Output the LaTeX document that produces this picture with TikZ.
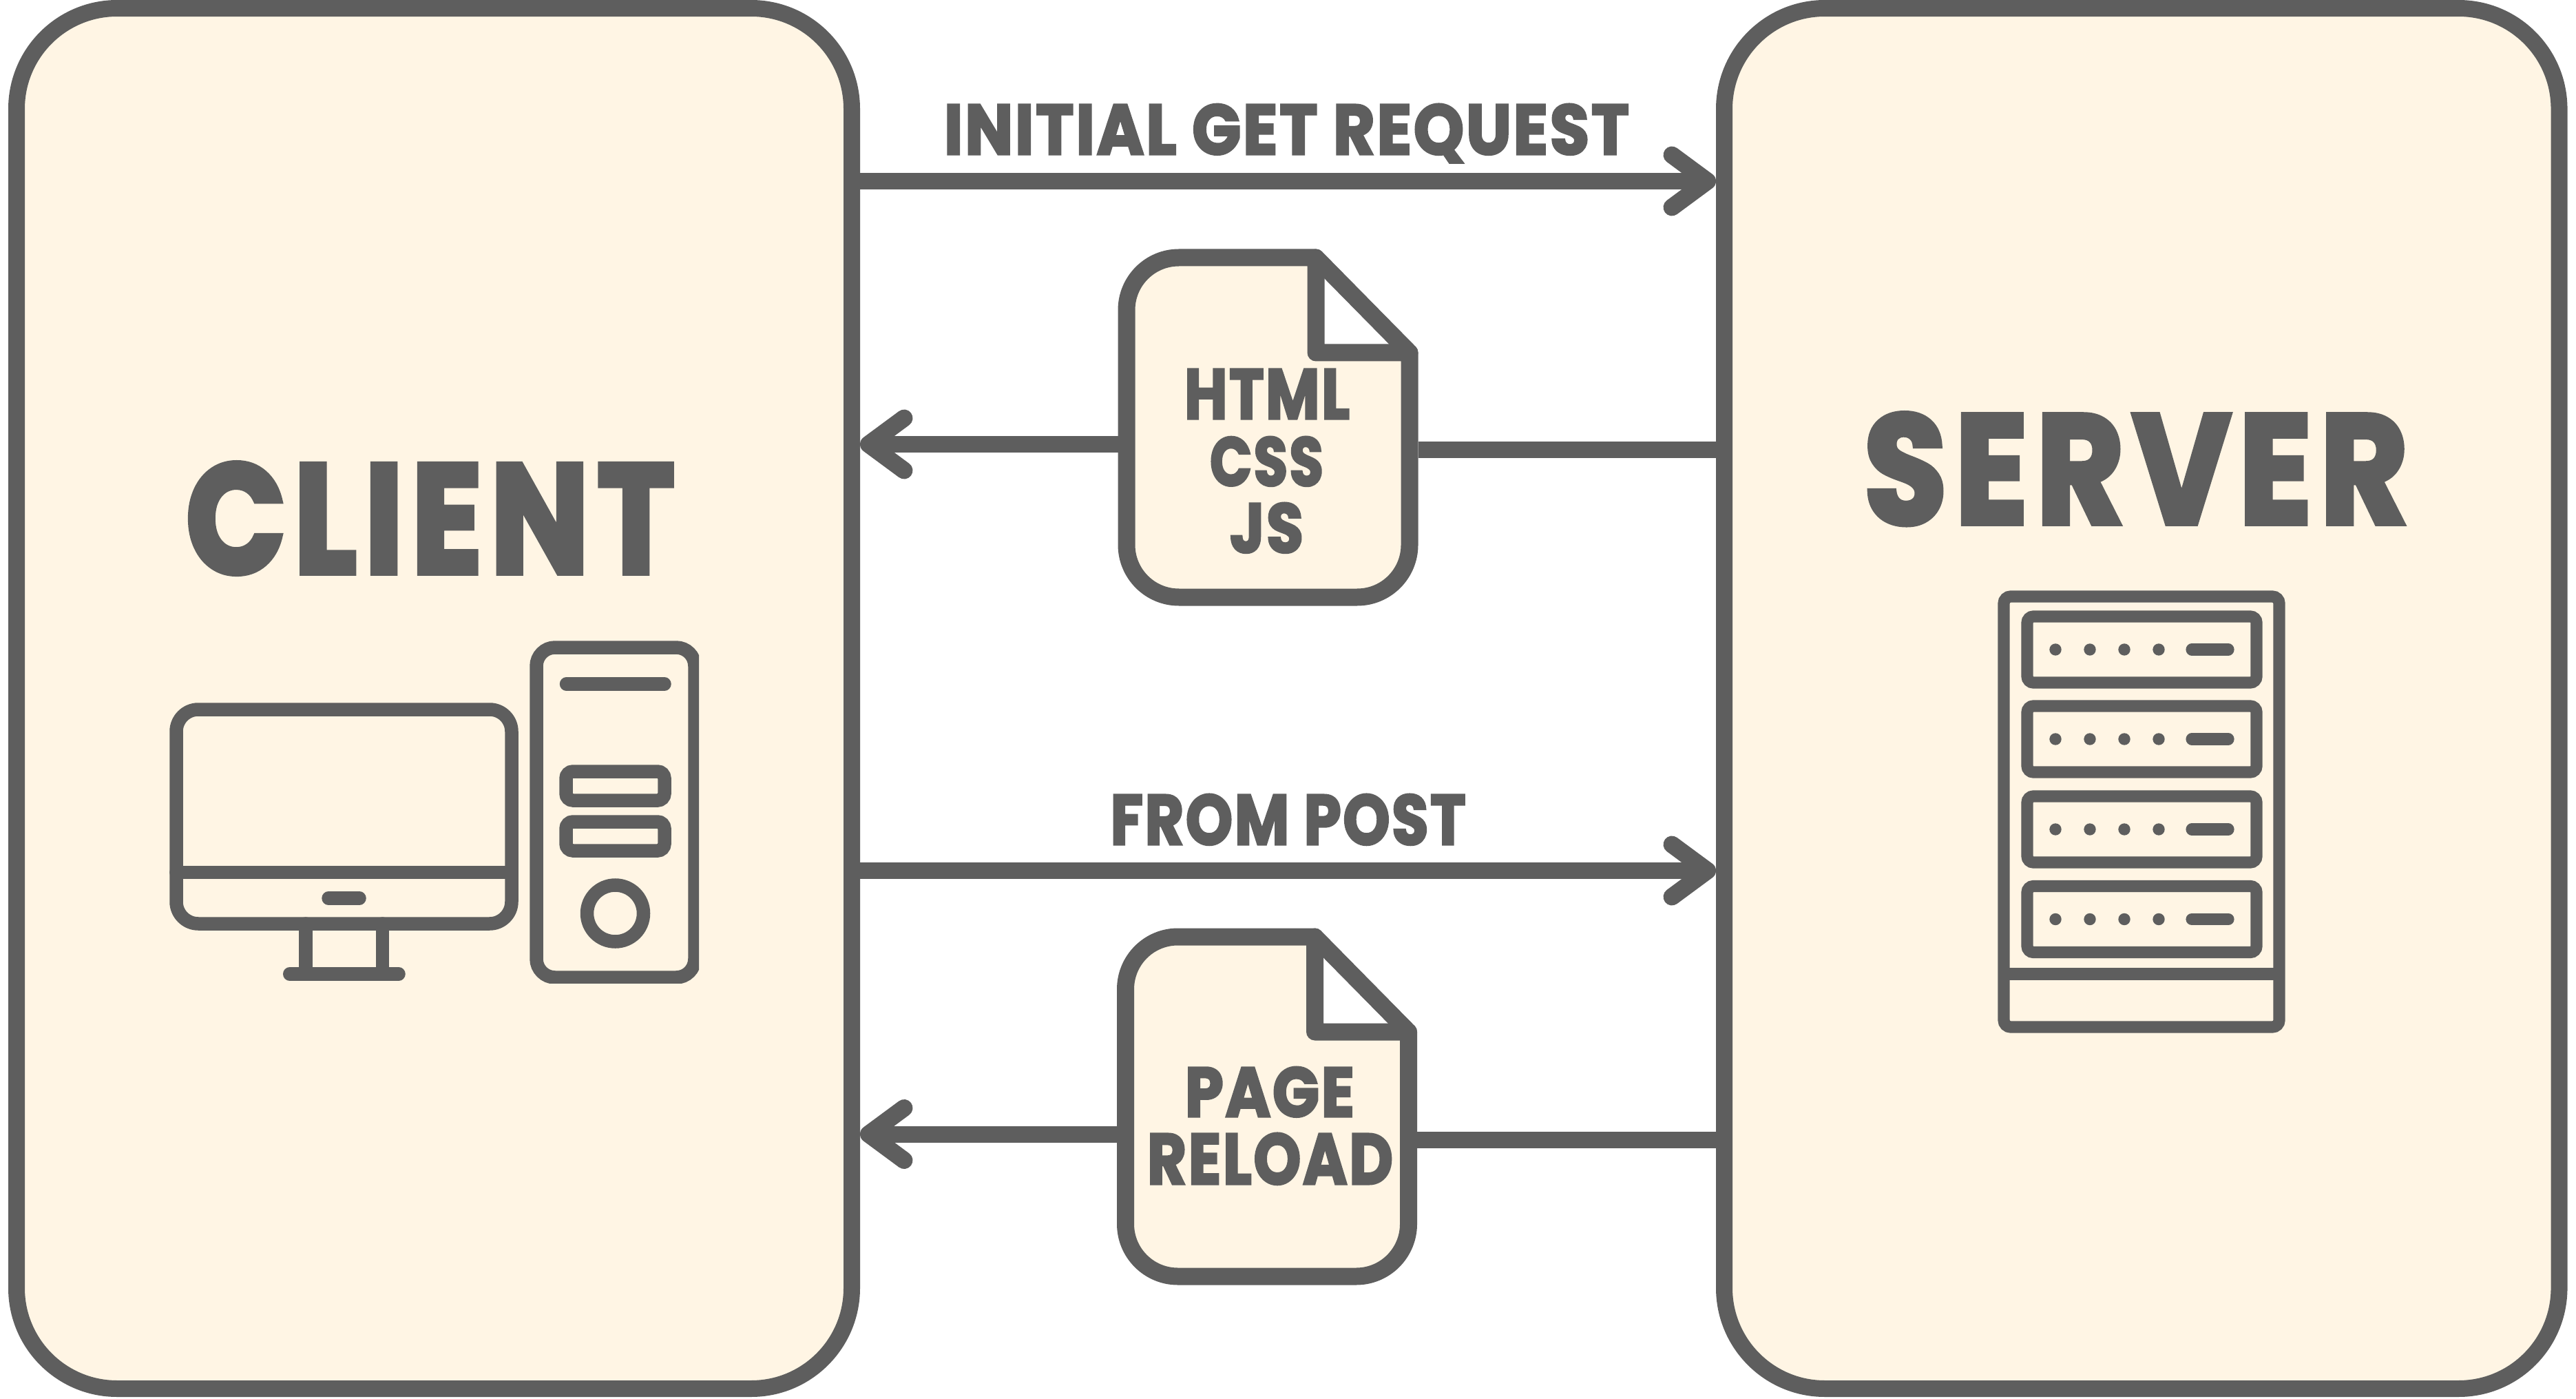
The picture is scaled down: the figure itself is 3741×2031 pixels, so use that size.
\documentclass[tikz,border=0pt]{standalone}
\usepackage{graphicx}
\usepackage{fontspec}
\usetikzlibrary{arrows.meta}
\newfontfamily\wordfont[LetterSpace=3, BoldFeatures={FakeBold=3}]{Poppins}
\newfontfamily\titlefont[LetterSpace=6, BoldFeatures={FakeBold=3.5}]{Poppins}
\newcommand{\fitword}[3]{\resizebox{#1}{#2}{\wordfont\bfseries #3}}
\newcommand{\fittitle}[3]{\resizebox{#1}{#2}{\titlefont\bfseries #3}}
\definecolor{tinta}{RGB}{94, 94, 94}
\definecolor{crema}{RGB}{255, 245, 228}
\tikzset{
    panel/.style={draw=tinta, fill=crema, line width=2.4mm, rounded corners=14.6mm, inner sep=0pt},
    word/.style={text=tinta, inner sep=0pt, anchor=base},
    flow/.style={draw=tinta, line width=2.4mm},
    flowTip/.style={flow, -{Straight Barb[length=5.15mm, width=7.6mm, line width=2.5mm, round]}},
    docbox/.style={minimum width=41.1mm, minimum height=49.3mm, inner sep=0pt, outer sep=1.25mm},
    pc/.style={draw=tinta, line width=1.95mm, line cap=round},
    rack/.style={draw=tinta, line width=1.72mm},
    docpage/.pic={
        \draw[draw=tinta, fill=crema, line width=2.5mm, line join=round, rounded corners=7.6mm]
            (69.5,-246.5) -- (-205.5,-246.5) -- (-205.5,246.5) -- (205.5,246.5)
            [sharp corners] -- (205.5,-108.5) -- (69.5,-108.5) -- cycle;
        \draw[draw=tinta, line width=2.5mm, line cap=round] (69.5,-246.5) -- (205.5,-108.5);
        \node[docbox] (-box) at (0,0) {};
    },
}
\begin{document}
\begin{tikzpicture}[x=0.1mm, y=-0.1mm]
    \useasboundingbox (0,0) rectangle (3741,2031);

    \node[panel, minimum width=121.3mm, minimum height=200.4mm] (client) at (630.5,1014) {};
    \node[panel, minimum width=121.25mm, minimum height=200.4mm] (server) at (3110.25,1014) {};

    \node[word] (clientName) at (625,832) {\fittitle{71mm}{16mm}{CLIENT}};
    \node[word] (serverName) at (3102,760) {\fittitle{79mm}{16mm}{SERVER}};

    \pic (docA) at (1841.5,620.5) {docpage};
    \pic (docB) at (1840,1606.5) {docpage};

    \coordinate (getY) at (0,263);
    \coordinate (docInA) at (0,645);
    \coordinate (docOutA) at (0,653);
    \coordinate (postY) at (0,1264);
    \coordinate (docInB) at (0,1646.5);
    \coordinate (docOutB) at (0,1654.5);

    \draw[flowTip] (client.east |- getY) -- (server.west |- getY);
    \draw[flow] (server.west |- docOutA) -- (docA-box.east |- docOutA);
    \draw[flowTip] (docA-box.west |- docInA) -- (client.east |- docInA);
    \draw[flowTip] (client.east |- postY) -- (server.west |- postY);
    \draw[flow] (server.west |- docOutB) -- (docB-box.east |- docOutB);
    \draw[flowTip] (docB-box.west |- docInB) -- (client.east |- docInB);

    \node[word] (getLabel) at (1868.5,224) {\fitword{99.5mm}{7.3mm}{INITIAL GET REQUEST}};
    \node[word] (postLabel) at (1870.5,1226) {\fitword{51.6mm}{7.3mm}{FROM POST}};
    \node[word] (htmlLabel) at (1840,608) {\fitword{24mm}{7.2mm}{HTML}};
    \node[word] (cssLabel) at (1839.5,705) {\fitword{16.5mm}{7.1mm}{CSS}};
    \node[word] (jsLabel) at (1839.5,802) {\fitword{10.7mm}{7.2mm}{JS}};
    \node[word] (pageLabel) at (1844,1621) {\fitword{24.6mm}{7.2mm}{PAGE}};
    \node[word] (reloadLabel) at (1844.5,1719) {\fitword{35.7mm}{7.4mm}{RELOAD}};

    \draw[pc, rounded corners=3.2mm] (256,1030) rectangle (743,1341);
    \draw[pc] (256,1266.5) -- (743,1266.5);
    \draw[pc] (477,1304) -- (522,1304);
    \draw[pc] (444,1341) -- (444,1414);
    \draw[pc] (555.5,1341) -- (555.5,1414);
    \draw[pc] (420.7,1414) -- (579,1414);

    \begin{scope}
        \clip (760,920) rectangle (1015,1427);
        \draw[pc, rounded corners=2.7mm] (779,940) rectangle (1009,1419);
    \end{scope}
    \draw[pc] (822.5,993) -- (965,993);
    \foreach \slotY in {1120,1193}
        \draw[pc, rounded corners=1mm] (822,\slotY) rectangle (965,\slotY+42);
    \draw[pc] (893.5,1326) circle (4.1mm);

    \draw[rack, rounded corners=1mm] (2910,866) rectangle (3310,1491);
    \draw[rack] (2910,1414) -- (3310,1414);
    \foreach \slotY in {943,1073,1204,1334.5} {
        \draw[rack, rounded corners=0.9mm] (2944,\slotY-48) rectangle (3277,\slotY+48);
        \foreach \dotX in {2985,3035,3085,3135}
            \fill[tinta] (\dotX,\slotY) circle (0.87mm);
        \draw[rack, line cap=round] (3183,\slotY) -- (3236,\slotY);
    }
\end{tikzpicture}
\end{document}
